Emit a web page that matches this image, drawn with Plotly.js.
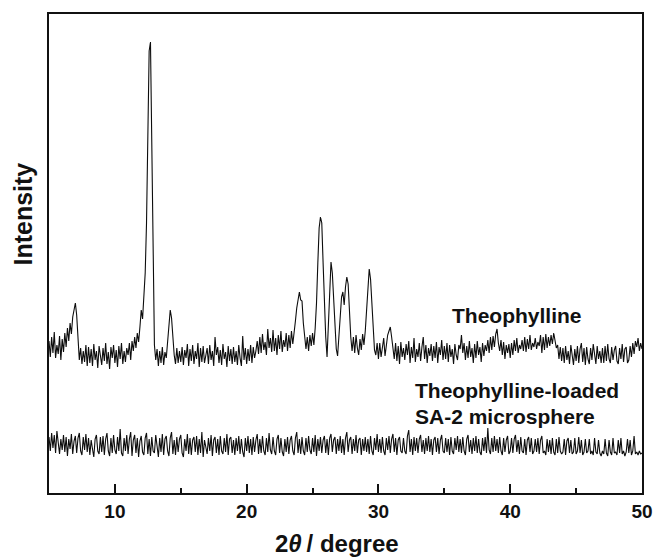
<!DOCTYPE html>
<html>
<head>
<meta charset="utf-8">
<script src="https://cdn.plot.ly/plotly-3.0.1.min.js"></script>
<style>html,body{margin:0;padding:0;background:#fff;}#chart{width:653px;height:558px;}</style>
</head>
<body>
<div id="chart"></div>
<script>
// 2-theta grid: start and step (degrees)
const startAngle = 5;
const stepAngle = 0.1;

// Theophylline pattern, 5.0 .. 50.0 deg, step 0.1 (arbitrary intensity units)
const theophylline = [
  1520,1360,1560,1400,1610,1350,1480,1390,1570,1330, // 5
  1540,1410,1600,1460,1650,1520,1700,1590,1760,1850, // 6
  1900,1780,1520,1330,1450,1290,1420,1310,1480,1270, // 7
  1460,1300,1440,1270,1490,1330,1420,1250,1470,1360, // 8
  1280,1450,1320,1500,1290,1410,1240,1460,1350,1480, // 9
  1300,1430,1260,1470,1340,1500,1290,1420,1310,1450, // 10
  1380,1500,1330,1520,1420,1560,1450,1600,1510,1660, // 11
  1830,1740,1920,2200,2700,3600,4420,4510,3500,2200, // 12
  1480,1330,1440,1270,1420,1300,1460,1280,1410,1350, // 13
  1500,1640,1830,1750,1560,1380,1290,1450,1300,1420, // 14
  1310,1460,1280,1430,1350,1490,1270,1440,1320,1480, // 15
  1290,1420,1340,1500,1260,1450,1310,1470,1300,1400, // 16
  1450,1290,1480,1330,1420,1270,1560,1380,1460,1300, // 17
  1430,1280,1490,1340,1410,1260,1470,1320,1440,1290, // 18
  1460,1310,1420,1280,1480,1350,1270,1570,1330,1450, // 19
  1290,1440,1320,1480,1300,1460,1350,1420,1520,1390, // 20
  1560,1400,1590,1430,1510,1380,1640,1450,1550,1410, // 21
  1630,1420,1550,1380,1580,1440,1620,1410,1530,1460, // 22
  1600,1420,1580,1450,1620,1490,1650,1720,1850,1960, // 23
  2010,1930,1920,1700,1590,1440,1560,1420,1580,1470, // 24
  1600,1480,1650,1900,2300,2650,2760,2700,2300,1900, // 25
  1560,1360,1720,2100,2310,2200,1920,1600,1440,1370, // 26
  1560,1800,1960,2010,1880,2060,2160,2090,1810,1560, // 27
  1420,1560,1400,1580,1450,1380,1540,1430,1590,1480, // 28
  1620,1860,2110,2240,2140,1920,1610,1430,1380,1500, // 29
  1340,1500,1360,1480,1550,1370,1510,1580,1620,1660, // 30
  1560,1440,1340,1500,1320,1470,1290,1510,1360,1450, // 31
  1330,1490,1380,1520,1300,1460,1350,1550,1310,1440, // 32
  1360,1500,1320,1460,1560,1340,1480,1300,1450,1370, // 33
  1490,1320,1470,1350,1510,1300,1460,1380,1530,1330, // 34
  1470,1340,1500,1310,1480,1360,1440,1290,1490,1380, // 35
  1330,1480,1440,1580,1400,1500,1330,1470,1350,1520, // 36
  1360,1450,1300,1490,1350,1520,1380,1460,1310,1500, // 37
  1370,1480,1420,1530,1400,1560,1430,1570,1460,1590, // 38
  1640,1500,1420,1530,1380,1510,1340,1480,1400,1490, // 39
  1350,1500,1380,1530,1420,1550,1400,1480,1440,1530, // 40
  1420,1560,1410,1540,1440,1580,1430,1500,1460,1550, // 41
  1440,1510,1470,1580,1400,1560,1430,1590,1450,1560, // 42
  1470,1580,1490,1600,1540,1450,1480,1340,1460,1320, // 43
  1450,1300,1470,1330,1420,1290,1480,1350,1280,1440, // 44
  1320,1470,1300,1440,1500,1310,1450,1280,1460,1340, // 45
  1290,1450,1330,1490,1360,1290,1470,1340,1420,1300, // 46
  1450,1300,1470,1320,1490,1340,1300,1460,1330,1430, // 47
  1470,1320,1290,1450,1340,1490,1310,1440,1460,1300, // 48
  1330,1470,1360,1500,1390,1520,1460,1550,1420,1500, // 49
  1440                                               // 50
];

// Theophylline-loaded SA-2 microsphere pattern, same grid
const microsphere = [
  560,420,600,450,580,400,620,470,390,540, // 5
  430,580,410,560,370,540,440,590,390,520, // 6
  570,400,550,600,420,380,560,430,590,410, // 7
  550,380,530,440,360,540,580,420,390,560, // 8
  410,570,380,540,600,420,370,550,400,580, // 9
  430,390,560,420,640,400,370,550,420,580, // 10
  390,540,610,370,530,580,400,550,360,520, // 11
  570,410,380,550,600,390,540,370,560,420, // 12
  400,580,430,360,550,410,590,380,540,570, // 13
  420,370,550,610,390,530,380,560,410,540, // 14
  580,400,360,540,420,590,390,550,380,530, // 15
  560,410,570,380,540,400,610,360,530,450, // 16
  390,550,420,580,370,530,560,400,540,380, // 17
  570,420,390,550,410,590,380,540,560,400, // 18
  530,380,550,420,570,390,540,410,360,550, // 19
  420,570,400,540,380,560,410,530,590,390, // 20
  540,400,570,420,380,550,410,600,430,390, // 21
  560,420,380,540,580,400,550,410,370,540, // 22
  410,560,390,530,570,420,380,550,610,400, // 23
  540,390,560,420,380,550,410,570,430,390, // 24
  550,410,580,370,540,420,560,400,530,570, // 25
  400,540,380,550,590,410,530,560,390,540, // 26
  420,570,400,540,380,550,610,410,530,560, // 27
  390,540,420,580,400,530,550,380,540,420, // 28
  560,410,540,390,570,420,380,550,430,590, // 29
  410,540,400,560,420,380,550,430,570,400, // 30
  540,590,410,550,380,530,560,420,400,550, // 31
  420,390,570,630,410,540,380,560,420,550, // 32
  400,540,580,410,530,390,550,420,570,410, // 33
  540,380,530,560,410,550,390,530,580,420, // 34
  400,550,410,540,380,560,420,390,550,430, // 35
  570,410,540,400,560,420,380,540,580,410, // 36
  530,390,550,420,570,400,540,410,380,550, // 37
  420,560,400,650,430,390,550,410,570,420, // 38
  540,400,560,420,380,550,410,530,570,390, // 39
  420,550,400,540,580,410,530,390,560,420, // 40
  400,540,380,530,560,410,550,390,420,540, // 41
  410,550,390,530,570,400,420,380,540,410, // 42
  530,390,550,410,380,540,400,560,420,390, // 43
  410,540,380,520,550,400,530,390,410,550, // 44
  390,420,560,400,530,380,410,540,400,420, // 45
  540,390,420,380,550,410,390,530,400,370, // 46
  420,390,540,400,370,530,410,380,550,400, // 47
  410,380,530,400,550,390,420,370,410,540, // 48
  400,530,380,420,570,390,410,380,420,390, // 49
  400                                      // 50
];

const majorTicks = [10, 20, 30, 40, 50];
const xRange = [5, 50];
const yRange = [0, 4790];

const FONT = 'Liberation Sans, Arial, Helvetica, sans-serif';

const traces = [
  {
    type: 'scatter', mode: 'lines', name: 'Theophylline',
    x0: startAngle, dx: stepAngle, y: theophylline,
    line: {color: '#0d0d0d', width: 1.1}, hoverinfo: 'skip'
  },
  {
    type: 'scatter', mode: 'lines', name: 'Theophylline-loaded SA-2 microsphere',
    x0: startAngle, dx: stepAngle, y: microsphere,
    line: {color: '#0d0d0d', width: 1.1}, hoverinfo: 'skip'
  }
];

const layout = {
  width: 653, height: 558,
  margin: {l: 49, r: 11, t: 14, b: 65, pad: 0},
  paper_bgcolor: '#ffffff', plot_bgcolor: '#ffffff',
  showlegend: false,
  font: {family: FONT, color: '#111111'},
  xaxis: {
    range: xRange, tickvals: majorTicks, ticktext: majorTicks.map(String),
    ticks: 'inside', ticklen: 9, tickwidth: 2, tickcolor: '#111',
    minor: {dtick: 5, tick0: 0, ticks: 'inside', ticklen: 5, tickwidth: 2, tickcolor: '#111', showgrid: false},
    showline: true, linewidth: 2, linecolor: '#111', mirror: true,
    showgrid: false, zeroline: false,
    tickfont: {family: FONT, size: 19, color: '#111', weight: 'bold'},
    ticklabelstandoff: 0,
    fixedrange: true
  },
  yaxis: {
    range: yRange, showticklabels: false, ticks: '',
    showline: true, linewidth: 2, linecolor: '#111', mirror: true,
    showgrid: false, zeroline: false, fixedrange: true
  },
  annotations: [
    {xref: 'paper', yref: 'paper', x: 0.485, y: -0.1044, xanchor: 'center', yanchor: 'middle',
     text: '2<i>θ</i>\u2009/ degree', showarrow: false,
     font: {family: FONT, size: 24, color: '#111', weight: 'bold'}},
    {xref: 'paper', yref: 'paper', x: -0.0455, y: 0.5814, xanchor: 'center', yanchor: 'middle',
     text: 'Intensity', textangle: -90, showarrow: false,
     font: {family: FONT, size: 25, color: '#111', weight: 'bold'}},
    {xref: 'paper', yref: 'paper', x: 0.7899, y: 0.3716, xanchor: 'center', yanchor: 'middle',
     text: 'Theophylline', showarrow: false,
     font: {family: FONT, size: 21, color: '#111', weight: 'bold'}},
    {xref: 'paper', yref: 'paper', x: 0.6138, y: 0.2150, xanchor: 'left', yanchor: 'middle',
     text: 'Theophylline-loaded', showarrow: false,
     font: {family: FONT, size: 21, color: '#111', weight: 'bold'}},
    {xref: 'paper', yref: 'paper', x: 0.6138, y: 0.1587, xanchor: 'left', yanchor: 'middle',
     text: 'SA-2 microsphere', showarrow: false,
     font: {family: FONT, size: 21, color: '#111', weight: 'bold'}}
  ]
};

Plotly.newPlot('chart', traces, layout, {staticPlot: true, displayModeBar: false});
</script>
</body>
</html>
